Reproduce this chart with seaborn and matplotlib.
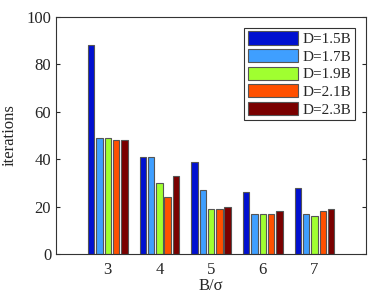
import pandas as pd
import numpy as np
import matplotlib
matplotlib.use("Agg")
import matplotlib.pyplot as plt
import seaborn as sns

# data
ratios = ["3", "4", "5", "6", "7"]
series = ["D=1.5B", "D=1.7B", "D=1.9B", "D=2.1B", "D=2.3B"]
d15 = [88, 41, 39, 26, 28]
d17 = [49, 41, 27, 17, 17]
d19 = [49, 30, 19, 17, 16]
d21 = [48, 24, 19, 17, 18]
d23 = [48, 33, 20, 18, 19]
colors = ["#0010D0", "#3F9FFF", "#A0FF30", "#FF5000", "#7A0000"]

df = pd.DataFrame({
    "ratio": ratios * 5,
    "D": np.repeat(series, len(ratios)),
    "iterations": d15 + d17 + d19 + d21 + d23,
})

sns.set_style("white")
plt.rcParams["font.family"] = ["Liberation Serif", "DejaVu Serif"]

fig = plt.figure(figsize=(3.74, 2.97), dpi=100)
ax = fig.add_axes([0.150, 0.145, 0.829, 0.798])

sns.barplot(data=df, x="ratio", y="iterations", hue="D", palette=colors,
            width=0.8, gap=0.22, edgecolor="#555555", linewidth=0.8,
            saturation=1, ax=ax)

ax.set_xlim(-1, 5)
ax.set_ylim(0, 100)
ax.set_yticks([0, 20, 40, 60, 80, 100])
ax.set_xlabel("B/σ", fontsize=12, labelpad=0)
ax.set_ylabel("iterations", fontsize=12, labelpad=6)
ax.tick_params(direction="in", labelsize=12, length=3, top=False, right=True,
               bottom=True, left=True)
ax.tick_params(axis="x", pad=6)
for s in ax.spines.values():
    s.set_color("#333333")
    s.set_linewidth(0.8)

leg = ax.legend(loc="upper right", fontsize=11, frameon=True, fancybox=False,
                edgecolor="black", handlelength=3.3, handleheight=0.95,
                borderpad=0.25, labelspacing=0.18, handletextpad=0.3,
                borderaxespad=0.7)
leg.get_frame().set_linewidth(0.8)

fig.savefig("out.png", dpi=100)
